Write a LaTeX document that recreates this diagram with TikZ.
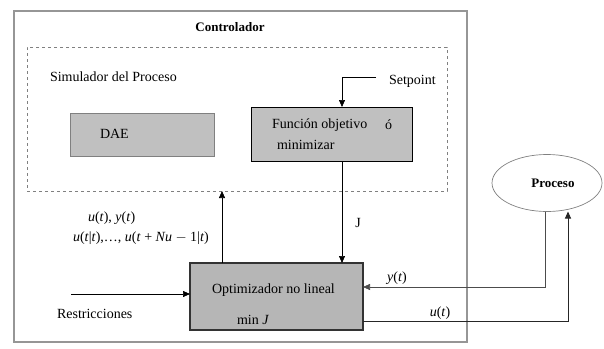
\documentclass[tikz,border=0pt]{standalone}
\usepackage{fontspec}
\setmainfont{Liberation Serif}
\usetikzlibrary{arrows.meta,shapes.geometric}
\definecolor{boxgray}{RGB}{192,192,192}
\definecolor{optgray}{RGB}{182,182,182}
\definecolor{framegray}{RGB}{150,150,150}
\tikzset{
  blockdae/.style={draw=gray,fill=boxgray,line width=0.8pt},
  blockfun/.style={draw=black,fill=boxgray,line width=0.8pt},
  blockopt/.style={draw=black!80,fill=optgray,line width=1.4pt},
  link/.style={draw=black,line width=0.7pt,-{Triangle[length=7pt,width=6pt]}}
}
\begin{document}
\begin{tikzpicture}[x=1pt, y=-1pt, every node/.append style={inner sep=0pt, outer sep=0pt}, font=\fontsize{14}{16}\selectfont]
			\useasboundingbox (0,0) rectangle (604,348);
			\node[draw=framegray,line width=1.6pt,minimum width=453pt,minimum height=331pt,anchor=north west] (ctrl) at (14,11){};
			\node[draw=gray,dashed,line width=0.6pt,minimum width=420pt,minimum height=144pt,anchor=north west] (sim) at (27,47){};
			\node[blockdae,minimum width=144pt,minimum height=43pt,anchor=north west] (dae) at (70,113){};
			\node[blockfun,minimum width=161pt,minimum height=54pt,anchor=north west] (fun) at (251,107){};
			\node[blockopt,minimum width=173pt,minimum height=67pt,anchor=north west] (opt) at (190,263){};
			\node[draw=gray,line width=0.7pt,ellipse,minimum width=110pt,minimum height=57pt] (proc) at (547,183){};
			\node[font=\fontsize{13}{15}\selectfont\bfseries] (ctrltxt) at (230,27){Controlador};
			\node[anchor=west] (simtxt) at (50,77){Simulador del Proceso};
			\node[anchor=west] (daetxt) at (100,134){DAE};
			\node[anchor=west] (funtxt) at (272,125){Función objetivo};
			\node[anchor=west] (funo) at (385,125){ó};
			\node[anchor=west] (funtxt2) at (277,145){minimizar};
			\node[anchor=west] (setpt) at (389,81){Setpoint};
			\node[anchor=west] (opttxt) at (212,290){Optimizador no lineal};
			\node[anchor=west] (mintxt) at (237,320){min \textit{J}};
			\node[anchor=west] (uy) at (88,218){\textit{u}(\textit{t}), \textit{y}(\textit{t})};
			\node[anchor=west] (useq) at (73,238){\textit{u}(\textit{t}|\textit{t}),\ldots, \textit{u}(\textit{t} + \textit{Nu} $-$ 1|\textit{t})};
			\node[anchor=west] (restr) at (57,314){Restricciones};
			\node (jlab) at (358,223){J};
			\node (ylab) at (397,278){\textit{y}(\textit{t})};
			\node (ulab) at (440,313){\textit{u}(\textit{t})};
			\node[font=\fontsize{13}{15}\selectfont\bfseries] (proctxt) at (553,183){Proceso};
			\coordinate (spin) at (376,77);
			\coordinate (jcol) at (342,0);
			\coordinate (upcol) at (222,0);
			\coordinate (rsin) at (71,294);
			\coordinate (ycol) at (545,0);
			\coordinate (yrow) at (0,287);
			\coordinate (ucol) at (568,0);
			\coordinate (urow) at (0,321);
			\path[link] (spin) -| (fun.north -| jcol);
			\path[link] (fun.south -| jcol) -- (opt.north -| jcol);
			\path[link] (opt.north -| upcol) -- (sim.south -| upcol);
			\path[link] (rsin) -- (rsin -| opt.west);
			\path[link,draw=black!70] (ycol |- proc.south) |- (opt.east |- yrow); % y(t) back to the optimizer
			\path[link,line width=1pt,draw=black!85] (opt.east |- urow) -| (ucol |- proc.south);
		\end{tikzpicture}
\end{document}
